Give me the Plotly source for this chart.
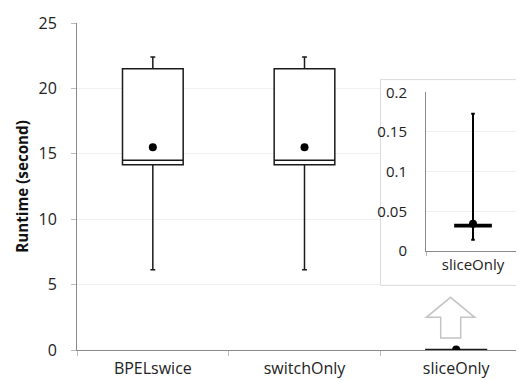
import plotly.graph_objects as go

# ---- data ----
categories = ["BPELswice", "switchOnly", "sliceOnly"]
q1 = [14.17, 14.17, 0.031]
median = [14.5, 14.5, 0.032]
q3 = [21.5, 21.5, 0.033]
lower = [6.14, 6.14, 0.0142]
upper = [22.4, 22.4, 0.173]
mean = [15.5, 15.5, 0.0344]

inset_category = ["sliceOnly"]
inset_q1 = [0.031]
inset_median = [0.032]
inset_q3 = [0.033]
inset_lower = [0.0142]
inset_upper = [0.173]
inset_mean = [0.0344]

y_ticks = [0, 5, 10, 15, 20, 25]
inset_ticks = [0, 0.05, 0.1, 0.15, 0.2]

FONT = "Open Sans"
W, H = 524, 381
ML, MR, MT, MB = 69, 0, 15, 39
PW, PH = W - ML - MR, H - MT - MB


def px(x):
    return (x - ML) / PW


def py(y):
    return (H - MB - y) / PH


fig = go.Figure()

# main boxes
fig.add_trace(go.Box(
    x=categories, q1=q1, median=median, q3=q3,
    lowerfence=lower, upperfence=upper,
    width=0.4, whiskerwidth=0.08,
    fillcolor="white", line=dict(color="#1a1a1a", width=1.5),
    boxpoints=False, showlegend=False, xaxis="x", yaxis="y",
))
fig.add_trace(go.Scatter(
    x=categories, y=mean, mode="markers",
    marker=dict(color="black", size=8), showlegend=False,
    xaxis="x", yaxis="y",
))

# frame subplot (x3/y3) -- white panel behind the inset
fig.add_trace(go.Scatter(x=[None], y=[None], xaxis="x3", yaxis="y3", showlegend=False))

# inset
fig.add_trace(go.Box(
    x=inset_category, q1=inset_q1, median=inset_median, q3=inset_q3,
    lowerfence=inset_lower, upperfence=inset_upper,
    width=0.38, whiskerwidth=0.1,
    fillcolor="white", line=dict(color="black", width=2),
    boxpoints=False, showlegend=False, xaxis="x4", yaxis="y4",
))
fig.add_trace(go.Scatter(
    x=inset_category, y=inset_mean, mode="markers",
    marker=dict(color="black", size=8), showlegend=False,
    xaxis="x4", yaxis="y4",
))

axis_font = dict(family=FONT, size=16, color="#222")
inset_font = dict(family=FONT, size=15, color="#222")
grid_col = "#efefef"
line_col = "#8a8a8a"

fig.update_layout(
    width=W, height=H,
    margin=dict(l=ML, r=MR, t=MT, b=MB, pad=0),
    paper_bgcolor="white", plot_bgcolor="rgba(0,0,0,0)",
    font=dict(family=FONT, size=16, color="#222"),
    xaxis=dict(
        domain=[0, 1], type="category", range=[-0.5, 2.5],
        showline=True, linecolor=line_col, linewidth=1.2,
        ticks="outside", tickson="boundaries", ticklen=5, tickcolor="#bbb",
        showgrid=False, tickfont=axis_font, ticklabelstandoff=4,
    ),
    yaxis=dict(
        domain=[0, 1], range=[0, 25], tickvals=y_ticks,
        showline=True, linecolor=line_col, linewidth=1,
        ticks="outside", ticklen=5, tickcolor="#bbb",
        gridcolor=grid_col, gridwidth=1, zeroline=False,
        tickfont=axis_font, ticklabelstandoff=11,
        title=dict(text="<b>Runtime (second)</b>", font=dict(family=FONT, size=15.2, color="#111"), standoff=6),
    ),
    xaxis3=dict(domain=[px(372), px(522)], range=[0, 1], visible=False, anchor="y3"),
    yaxis3=dict(domain=[py(278), py(71)], range=[0, 1], visible=False, anchor="x3"),
    xaxis4=dict(
        domain=[px(418), px(512)], type="category", range=[-0.5, 0.5], anchor="y4",
        showline=True, linecolor=line_col, linewidth=1,
        ticks="outside", tickson="boundaries", ticklen=4, tickcolor="#bbb",
        showgrid=False, tickfont=inset_font, ticklabelstandoff=0,
    ),
    yaxis4=dict(
        domain=[py(243), py(84.3)], range=[0, 0.2], tickvals=inset_ticks, anchor="x4",
        showline=True, linecolor=line_col, linewidth=1,
        ticks="", gridcolor=grid_col, zeroline=False,
        tickfont=inset_font, ticklabelstandoff=15,
    ),
    shapes=[
        dict(type="rect", xref="x3", yref="y3", x0=0.003, x1=0.997, y0=0.003, y1=0.997,
             layer="below", fillcolor="white", line=dict(color="#d9d9d9", width=1)),
        dict(type="path", xref="paper", yref="paper", layer="above",
             path=("M {},{} L {},{} L {},{} L {},{} L {},{} L {},{} L {},{} Z").format(
                 px(442.6), py(289.3), px(466.7), py(309.3), px(452.7), py(309.3),
                 px(452.7), py(330), px(432.7), py(330), px(432.7), py(309.3),
                 px(418.3), py(309.3)),
             fillcolor="white", line=dict(color="#c4c4c4", width=1.5)),
    ],
)

fig.write_html("out.html")
